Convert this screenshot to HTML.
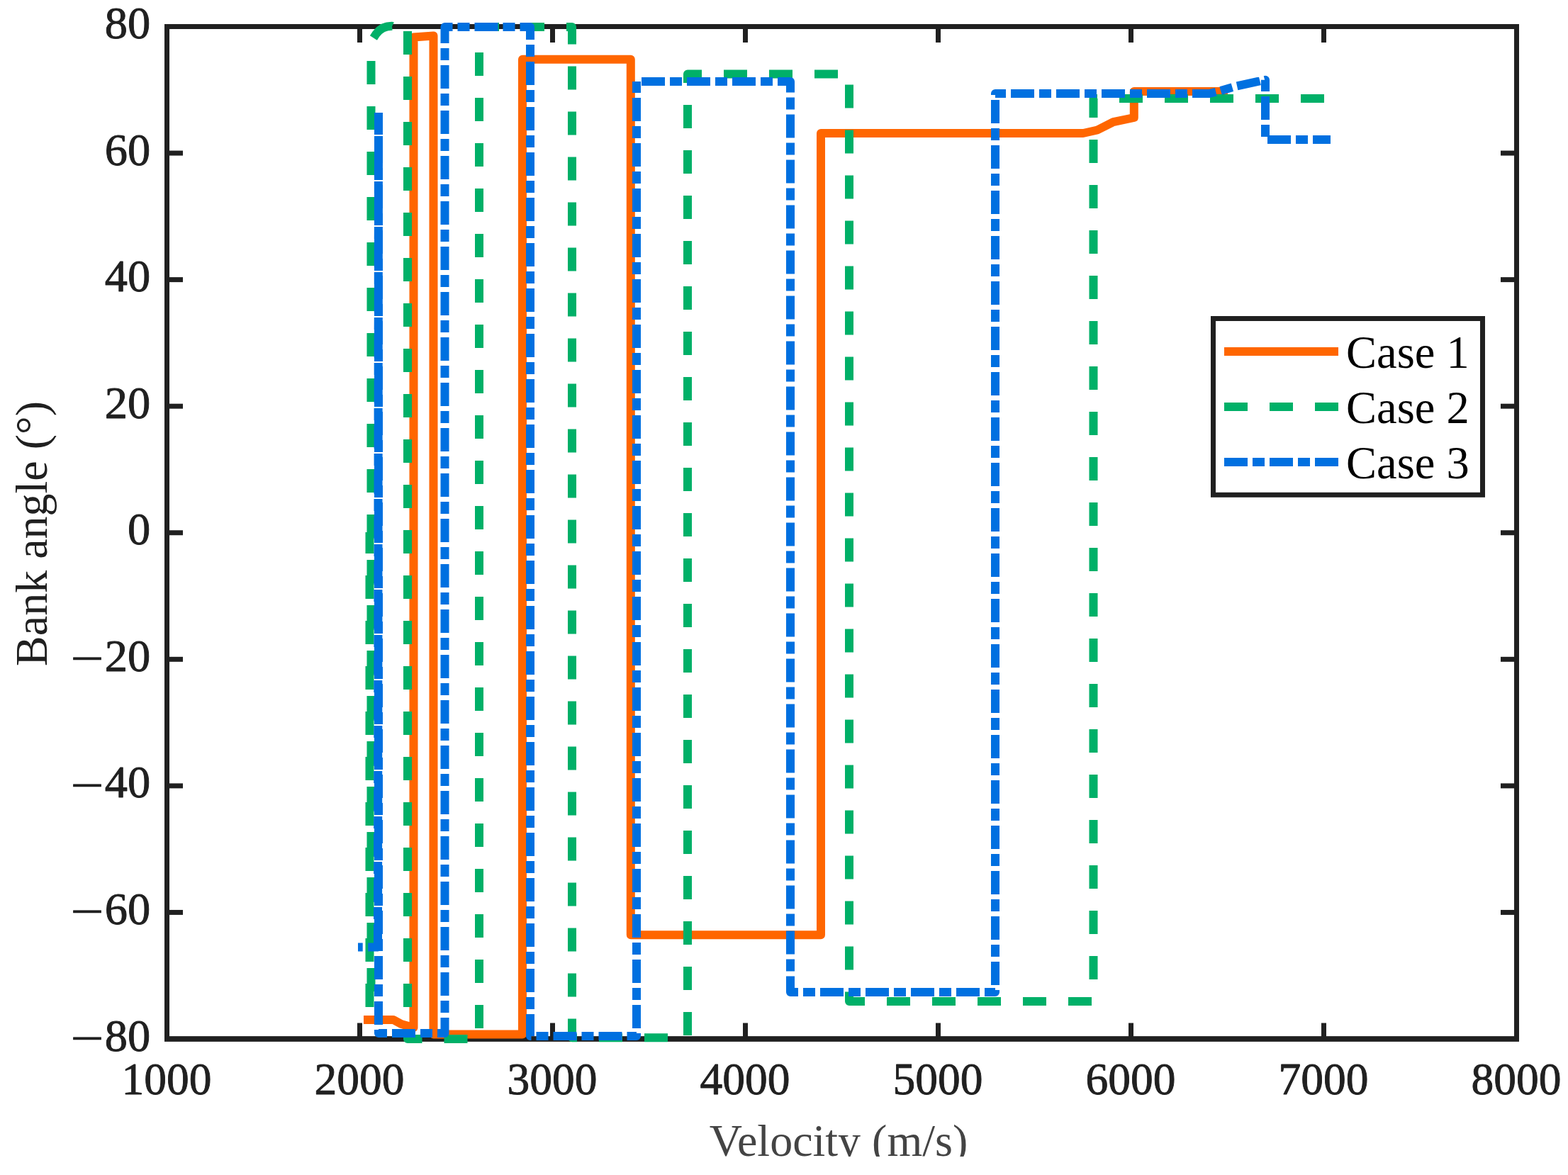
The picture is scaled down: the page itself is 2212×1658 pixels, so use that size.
<!DOCTYPE html>
<html lang="en"><head><meta charset="utf-8"><title>Bank angle vs velocity</title>
<style>
html,body{margin:0;padding:0;background:#fff;}
body{width:2212px;height:1658px;overflow:hidden;}
svg{display:block;}
text{font-family:"Liberation Serif",serif;}
.tick{font-size:63.5px;fill:#202020;stroke:#202020;stroke-width:0.9;stroke-linejoin:round;}
.minus{font-size:65px;stroke-width:0.6;}
.lab{font-size:64px;fill:#202020;}
.xlab{font-size:64px;fill:#444444;}
.leg{font-size:64.5px;fill:#000;}
</style></head><body>
<svg width="2212" height="1658" viewBox="0 0 2212 1658" role="img" aria-label="Bank angle versus velocity for Case 1, Case 2 and Case 3">
<rect x="0" y="0" width="2212" height="1658" fill="#ffffff"/>
<defs><clipPath id="pageclip"><rect x="0" y="0" width="2212" height="1632"/></clipPath></defs>
<g id="axes" stroke="#202020" stroke-width="7" fill="none" stroke-linecap="butt">
<rect x="235.5" y="37.5" width="1904" height="1428.5"/>
<line x1="232" y1="1465.95" x2="2143" y2="1465.95" stroke-width="7.4"/>
<line x1="507.5" y1="1466" x2="507.5" y2="1443.5"/>
<line x1="507.5" y1="37.5" x2="507.5" y2="60"/>
<line x1="779.5" y1="1466" x2="779.5" y2="1443.5"/>
<line x1="779.5" y1="37.5" x2="779.5" y2="60"/>
<line x1="1051.5" y1="1466" x2="1051.5" y2="1443.5"/>
<line x1="1051.5" y1="37.5" x2="1051.5" y2="60"/>
<line x1="1323.5" y1="1466" x2="1323.5" y2="1443.5"/>
<line x1="1323.5" y1="37.5" x2="1323.5" y2="60"/>
<line x1="1595.5" y1="1466" x2="1595.5" y2="1443.5"/>
<line x1="1595.5" y1="37.5" x2="1595.5" y2="60"/>
<line x1="1867.5" y1="1466" x2="1867.5" y2="1443.5"/>
<line x1="1867.5" y1="37.5" x2="1867.5" y2="60"/>
<line x1="235.5" y1="216.062" x2="258" y2="216.062"/>
<line x1="2139.5" y1="216.062" x2="2117" y2="216.062"/>
<line x1="235.5" y1="394.625" x2="258" y2="394.625"/>
<line x1="2139.5" y1="394.625" x2="2117" y2="394.625"/>
<line x1="235.5" y1="573.188" x2="258" y2="573.188"/>
<line x1="2139.5" y1="573.188" x2="2117" y2="573.188"/>
<line x1="235.5" y1="751.75" x2="258" y2="751.75"/>
<line x1="2139.5" y1="751.75" x2="2117" y2="751.75"/>
<line x1="235.5" y1="930.312" x2="258" y2="930.312"/>
<line x1="2139.5" y1="930.312" x2="2117" y2="930.312"/>
<line x1="235.5" y1="1108.88" x2="258" y2="1108.88"/>
<line x1="2139.5" y1="1108.88" x2="2117" y2="1108.88"/>
<line x1="235.5" y1="1287.44" x2="258" y2="1287.44"/>
<line x1="2139.5" y1="1287.44" x2="2117" y2="1287.44"/>
</g>
<g id="curves">
<path id="case1" d="M513 1439L555 1439L566 1445L583.5 1450L583.5 52.6L611.5 50.4L611.5 1459.5L737 1459.5L737 83.8L889.8 83.8L889.8 1319.2L1158 1319.2L1158 188L1528 188L1548 183.5L1570.5 172.2L1599.8 166L1599.8 129L1732 129" fill="none" stroke="#FF6600" stroke-width="12" stroke-linejoin="round" stroke-linecap="butt"/>
<path id="case2" d="M1868 139L1835 139M1804 139L1771 139M1740 139L1707 139M1676 139L1643 139M1612 139L1579 139M1548 139L1542.5 139L1542.5 166M1542.5 197L1542.5 230M1542.5 261L1542.5 294M1542.5 325L1542.5 358M1542.5 389L1542.5 422M1542.5 453L1542.5 486M1542.5 517L1542.5 550M1542.5 581L1542.5 614M1542.5 645L1542.5 678M1542.5 709L1542.5 742M1542.5 773L1542.5 806M1542.5 837L1542.5 870M1542.5 901L1542.5 934M1542.5 965L1542.5 998M1542.5 1029L1542.5 1062M1542.5 1093L1542.5 1126M1542.5 1157L1542.5 1190M1542.5 1221L1542.5 1254M1542.5 1285L1542.5 1318M1542.5 1349L1542.5 1382M1540 1413L1507 1413M1476 1413L1443 1413M1412 1413L1379 1413M1348 1413L1315 1413M1284 1413L1251 1413M1220 1413L1198 1413L1198 1399.5M1198 1368.5L1198 1335.5M1198 1304.5L1198 1271.5M1198 1240.5L1198 1207.5M1198 1176.5L1198 1143.5M1198 1112.5L1198 1079.5M1198 1048.5L1198 1015.5M1198 984.5L1198 951.5M1198 920.5L1198 887.5M1198 856.5L1198 823.5M1198 792.5L1198 759.5M1198 728.5L1198 695.5M1198 664.5L1198 631.5M1198 600.5L1198 567.5M1198 536.5L1198 503.5M1198 472.5L1198 439.5M1198 408.5L1198 375.5M1198 344.5L1198 311.5M1198 280.5L1198 247.5M1198 216.5L1198 183.5M1198 152.5L1198 119.5M1182 104.5L1149 104.5M1118 104.5L1085 104.5M1054 104.5L1021 104.5M990 104.5L970 104.5L970 117M970 148L970 181M970 212L970 245M970 276L970 309M970 340L970 373M970 404L970 437M970 468L970 501M970 532L970 565M970 596L970 629M970 660L970 693M970 724L970 757M970 788L970 821M970 852L970 885M970 916L970 949M970 980L970 1013M970 1044L970 1077M970 1108L970 1141M970 1172L970 1205M970 1236L970 1269M970 1300L970 1333M970 1364L970 1397M970 1428L970 1461M942 1464.2L909 1464.2M878 1464.2L845 1464.2M814 1464.2L807 1464.2L807 1437.5M807 1406.5L807 1373.5M807 1342.5L807 1309.5M807 1278.5L807 1245.5M807 1214.5L807 1181.5M807 1150.5L807 1117.5M807 1086.5L807 1053.5M807 1022.5L807 989.5M807 958.5L807 925.5M807 894.5L807 861.5M807 830.5L807 797.5M807 766.5L807 733.5M807 702.5L807 669.5M807 638.5L807 605.5M807 574.5L807 541.5M807 510.5L807 477.5M807 446.5L807 413.5M807 382.5L807 349.5M807 318.5L807 285.5M807 254.5L807 221.5M807 190.5L807 157.5M807 126.5L807 93.5M807 62.5L807 38L799 38M768 38L735 38M704 38L676 38L676 43M676 74L676 107M676 138L676 171M676 202L676 235M676 266L676 299M676 330L676 363M676 394L676 427M676 458L676 491M676 522L676 555M676 586L676 619M676 650L676 683M676 714L676 747M676 778L676 811M676 842L676 875M676 906L676 939M676 970L676 1003M676 1034L676 1067M676 1098L676 1131M676 1162L676 1195M676 1226L676 1259M676 1290L676 1323M676 1354L676 1387M676 1418L676 1451M659.5 1466L626.5 1466M595.5 1466L575 1466L575 1452M575 1421L575 1388M575 1357L575 1324M575 1293L575 1260M575 1229L575 1196M575 1165L575 1132M575 1101L575 1068M575 1037L575 1004M575 973L575 940M575 909L575 876M575 845L575 812M575 781L575 748M575 717L575 684M575 653L575 620M575 589L575 556M575 525L575 492M575 461L575 428M575 397L575 364M575 333L575 300M575 269L575 236M575 205L575 172M575 141L575 108M575 77L575 44M553.2 36.9L553 36.8L546 37.5L540 39.5L535 43L530.5 48L526.9 53.5M523.5 86L523.5 119M523.5 150L523.5 183M523.5 214L523.5 247M523.5 278L523.5 311M523.5 342L523.5 375M523.5 406L523.5 439M523.5 470L523.5 503M523.5 534L523.5 567M523.5 598L523.5 631M523.5 662L523.5 695M523.5 726L523.5 759M523.5 790L523.5 823M523.5 854L523.5 887M523.5 918L523.5 951M523.5 982L523.5 1015M523.5 1046L523.5 1079M523.5 1110L523.5 1143M523.5 1174L523.5 1207M523.5 1238L523.5 1271M523.5 1302L523.5 1335M523.5 1366L523.5 1399M521.5 1421L521.5 1388M521.5 1357L521.5 1324M521.5 1293L521.5 1260M521.5 1229L521.5 1196M521.5 1165L521.5 1132M521.5 1101L521.5 1068M521.5 1037L521.5 1004M521.5 973L521.5 940M521.5 909L521.5 876M521.5 845L521.5 812M521.5 781L521.5 751" fill="none" stroke="#00B068" stroke-width="12" stroke-linejoin="round" stroke-linecap="butt"/>
<path id="case3" d="M1869 197L1877 197M1877 197L1852 197M1845 197L1828 197M1821 197L1788 197M1785 193L1785 176M1785 169L1785 136M1785 129L1785 112.8L1784.2 113M1777.4 114.3L1777 114.4L1745.1 121.3M1738.4 123.2L1722.1 128M1715.3 129.7L1706 132L1682 132M1675 132L1658 132M1651 132L1618 132M1611 132L1594 132M1587 132L1554 132M1547 132L1530 132M1523 132L1490 132M1483 132L1466 132M1459 132L1426 132M1419 132L1404 132L1404 134M1404 141L1404 174M1404 181L1404 198M1404 205L1404 238M1404 245L1404 262M1404 269L1404 302M1404 309L1404 326M1404 333L1404 366M1404 373L1404 390M1404 397L1404 430M1404 437L1404 454M1404 461L1404 494M1404 501L1404 518M1404 525L1404 558M1404 565L1404 582M1404 589L1404 622M1404 629L1404 646M1404 653L1404 686M1404 693L1404 710M1404 717L1404 750M1404 757L1404 774M1404 781L1404 814M1404 821L1404 838M1404 845L1404 878M1404 885L1404 902M1404 909L1404 942M1404 949L1404 966M1404 973L1404 1006M1404 1013L1404 1030M1404 1037L1404 1070M1404 1077L1404 1094M1404 1101L1404 1134M1404 1141L1404 1158M1404 1165L1404 1198M1404 1205L1404 1222M1404 1229L1404 1262M1404 1269L1404 1286M1404 1293L1404 1326M1404 1333L1404 1350M1404 1357L1404 1390M1404 1397L1404 1400L1389 1400M1382 1400L1349 1400M1342 1400L1325 1400M1318 1400L1285 1400M1278 1400L1261 1400M1254 1400L1221 1400M1214 1400L1197 1400M1190 1400L1157 1400M1150 1400L1133 1400M1126 1400L1115 1400L1115 1377.5M1115 1370.5L1115 1353.5M1115 1346.5L1115 1313.5M1115 1306.5L1115 1289.5M1115 1282.5L1115 1249.5M1115 1242.5L1115 1225.5M1115 1218.5L1115 1185.5M1115 1178.5L1115 1161.5M1115 1154.5L1115 1121.5M1115 1114.5L1115 1097.5M1115 1090.5L1115 1057.5M1115 1050.5L1115 1033.5M1115 1026.5L1115 993.5M1115 986.5L1115 969.5M1115 962.5L1115 929.5M1115 922.5L1115 905.5M1115 898.5L1115 865.5M1115 858.5L1115 841.5M1115 834.5L1115 801.5M1115 794.5L1115 777.5M1115 770.5L1115 737.5M1115 730.5L1115 713.5M1115 706.5L1115 673.5M1115 666.5L1115 649.5M1115 642.5L1115 609.5M1115 602.5L1115 585.5M1115 578.5L1115 545.5M1115 538.5L1115 521.5M1115 514.5L1115 481.5M1115 474.5L1115 457.5M1115 450.5L1115 417.5M1115 410.5L1115 393.5M1115 386.5L1115 353.5M1115 346.5L1115 329.5M1115 322.5L1115 289.5M1115 282.5L1115 265.5M1115 258.5L1115 225.5M1115 218.5L1115 201.5M1115 194.5L1115 161.5M1115 154.5L1115 137.5M1115 130.5L1115 115L1097 115M1090 115L1073 115M1066 115L1033 115M1026 115L1009 115M1002 115L969 115M962 115L945 115M938 115L905 115M898 115L898 131M898 138L898 171M898 178L898 195M898 202L898 235M898 242L898 259M898 266L898 299M898 306L898 323M898 330L898 363M898 370L898 387M898 394L898 427M898 434L898 451M898 458L898 491M898 498L898 515M898 522L898 555M898 562L898 579M898 586L898 619M898 626L898 643M898 650L898 683M898 690L898 707M898 714L898 747M898 754L898 771M898 778L898 811M898 818L898 835M898 842L898 875M898 882L898 899M898 906L898 939M898 946L898 963M898 970L898 1003M898 1010L898 1027M898 1034L898 1067M898 1074L898 1091M898 1098L898 1131M898 1138L898 1155M898 1162L898 1195M898 1202L898 1219M898 1226L898 1259M898 1266L898 1283M898 1290L898 1323M898 1330L898 1347M898 1354L898 1387M898 1394L898 1411M898 1418L898 1451M898 1458L898 1462L884.5 1462M877.5 1462L844.5 1462M837.5 1462L820.5 1462M813.5 1462L780.5 1462M773.5 1462L756.5 1462M749.5 1462L748 1462L748 1431M748 1424L748 1407M748 1400L748 1367M748 1360L748 1343M748 1336L748 1303M748 1296L748 1279M748 1272L748 1239M748 1232L748 1215M748 1208L748 1175M748 1168L748 1151M748 1144L748 1111M748 1104L748 1087M748 1080L748 1047M748 1040L748 1023M748 1016L748 983M748 976L748 959M748 952L748 919M748 912L748 895M748 888L748 855M748 848L748 831M748 824L748 791M748 784L748 767M748 760L748 727M748 720L748 703M748 696L748 663M748 656L748 639M748 632L748 599M748 592L748 575M748 568L748 535M748 528L748 511M748 504L748 471M748 464L748 447M748 440L748 407M748 400L748 383M748 376L748 343M748 336L748 319M748 312L748 279M748 272L748 255M748 248L748 215M748 208L748 191M748 184L748 151M748 144L748 127M748 120L748 87M748 80L748 63M748 56L748 38L733.5 38M726.5 38L709.5 38M702.5 38L669.5 38M662.5 38L645.5 38M638.5 38L627.5 38L627.5 61M627.5 68L627.5 85M627.5 92L627.5 125M627.5 132L627.5 149M627.5 156L627.5 189M627.5 196L627.5 213M627.5 220L627.5 253M627.5 260L627.5 277M627.5 284L627.5 317M627.5 324L627.5 341M627.5 348L627.5 381M627.5 388L627.5 405M627.5 412L627.5 445M627.5 452L627.5 469M627.5 476L627.5 509M627.5 516L627.5 533M627.5 540L627.5 573M627.5 580L627.5 597M627.5 604L627.5 637M627.5 644L627.5 661M627.5 668L627.5 701M627.5 708L627.5 725M627.5 732L627.5 765M627.5 772L627.5 789M627.5 796L627.5 829M627.5 836L627.5 853M627.5 860L627.5 893M627.5 900L627.5 917M627.5 924L627.5 957M627.5 964L627.5 981M627.5 988L627.5 1021M627.5 1028L627.5 1045M627.5 1052L627.5 1085M627.5 1092L627.5 1109M627.5 1116L627.5 1149M627.5 1156L627.5 1173M627.5 1180L627.5 1213M627.5 1220L627.5 1237M627.5 1244L627.5 1277M627.5 1284L627.5 1301M627.5 1308L627.5 1341M627.5 1348L627.5 1365M627.5 1372L627.5 1405M627.5 1412L627.5 1429M627.5 1436L627.5 1458L617 1458M610 1458L593 1458M586 1458L553 1458M546 1458L534 1458L534 1453M534 1446L534 1413M534 1406L534 1389M534 1382L534 1349M534 1342L534 1325M534 1318L534 1285M534 1278L534 1261M534 1254L534 1221M534 1214L534 1197M534 1190L534 1157M534 1150L534 1133M534 1126L534 1093M534 1086L534 1069M534 1062L534 1029M534 1022L534 1005M534 998L534 965M534 958L534 941M534 934L534 901M534 894L534 877M534 870L534 837M534 830L534 813M534 806L534 773M534 766L534 749M534 742L534 709M534 702L534 685M534 678L534 645M534 638L534 621M534 614L534 581M534 574L534 557M534 550L534 517M534 510L534 493M534 486L534 453M534 446L534 429M534 422L534 389M534 382L534 365M534 358L534 325M534 318L534 301M534 294L534 261M534 254L534 237M534 230L534 197M534 190L534 173M534 166L534 159M534 159L534 185M534 192L534 209M534 216L533.9 249M533.9 256L533.9 273M533.9 280L533.9 313M533.9 320L533.8 337M533.8 344L533.8 377M533.8 384L533.8 401M533.8 408L533.8 441M533.8 448L533.7 465M533.7 472L533.7 505M533.7 512L533.7 529M533.7 536L533.7 569M533.6 576L533.6 593M533.6 600L533.6 633M533.6 640L533.6 657M533.6 664L533.5 697M533.5 704L533.5 721M533.5 728L533.5 761M533.5 768L533.5 785M533.5 792L533.4 825M533.4 832L533.4 849M533.4 856L533.4 889M533.4 896L533.4 913M533.4 920L533.3 953M533.3 960L533.3 977M533.3 984L533.3 1017M533.3 1024L533.3 1041M533.2 1048L533.2 1081M533.2 1088L533.2 1105M533.2 1112L533.2 1145M533.2 1152L533.1 1169M533.1 1176L533.1 1209M533.1 1216L533.1 1233M533.1 1240L533.1 1273M533 1280L533 1297M533 1304L533 1336.5M534 1336.5L519.2 1336.5M511.7 1336.5L505 1336.5" fill="none" stroke="#0070E0" stroke-width="12" stroke-linejoin="round" stroke-linecap="butt"/>
</g>
<g id="legend">
<rect x="1711.5" y="449.5" width="380" height="248.8" fill="#ffffff" stroke="#202020" stroke-width="7"/>
<line x1="1727" y1="496" x2="1888" y2="496" stroke="#FF6600" stroke-width="12"/>
<line x1="1727" y1="574" x2="1888" y2="574" stroke="#00B068" stroke-width="12" stroke-dasharray="33 31"/>
<line x1="1727" y1="652" x2="1888" y2="652" stroke="#0070E0" stroke-width="12" stroke-dasharray="33 7 17 7"/>
<text class="leg" text-anchor="start" transform="translate(1899 519) scale(1 1.03)">Case 1</text>
<text class="leg" text-anchor="start" transform="translate(1899 597) scale(1 1.03)">Case 2</text>
<text class="leg" text-anchor="start" transform="translate(1899 675) scale(1 1.03)">Case 3</text>
</g>
<g id="ticklabels">
<text class="tick" text-anchor="middle" transform="translate(235.1 1543.6)">1000</text>
<text class="tick" text-anchor="middle" transform="translate(507.1 1543.6)">2000</text>
<text class="tick" text-anchor="middle" transform="translate(779.1 1543.6)">3000</text>
<text class="tick" text-anchor="middle" transform="translate(1051.1 1543.6)">4000</text>
<text class="tick" text-anchor="middle" transform="translate(1323.1 1543.6)">5000</text>
<text class="tick" text-anchor="middle" transform="translate(1595.1 1543.6)">6000</text>
<text class="tick" text-anchor="middle" transform="translate(1867.1 1543.6)">7000</text>
<text class="tick" text-anchor="middle" transform="translate(2139.1 1543.6)">8000</text>
<text class="tick" text-anchor="end" transform="translate(212.2 54) scale(1.015 1)">80</text>
<text class="tick" text-anchor="end" transform="translate(212.2 232.56) scale(1.015 1)">60</text>
<text class="tick" text-anchor="end" transform="translate(212.2 411.12) scale(1.015 1)">40</text>
<text class="tick" text-anchor="end" transform="translate(212.2 589.69) scale(1.015 1)">20</text>
<text class="tick" text-anchor="end" transform="translate(212.2 768.25) scale(1.015 1)">0</text>
<text class="tick" transform="translate(212.2 946.81) scale(1.015 1)" text-anchor="end"><tspan class="minus" x="-111.13" y="4.5" text-anchor="start" textLength="46.7" lengthAdjust="spacingAndGlyphs">−</tspan><tspan x="0" y="0">20</tspan></text>
<text class="tick" transform="translate(212.2 1125.38) scale(1.015 1)" text-anchor="end"><tspan class="minus" x="-111.13" y="4.5" text-anchor="start" textLength="46.7" lengthAdjust="spacingAndGlyphs">−</tspan><tspan x="0" y="0">40</tspan></text>
<text class="tick" transform="translate(212.2 1303.94) scale(1.015 1)" text-anchor="end"><tspan class="minus" x="-111.13" y="4.5" text-anchor="start" textLength="46.7" lengthAdjust="spacingAndGlyphs">−</tspan><tspan x="0" y="0">60</tspan></text>
<text class="tick" transform="translate(212.2 1482.5) scale(1.015 1)" text-anchor="end"><tspan class="minus" x="-111.13" y="4.5" text-anchor="start" textLength="46.7" lengthAdjust="spacingAndGlyphs">−</tspan><tspan x="0" y="0">80</tspan></text>
</g>
<text class="lab" text-anchor="middle" transform="translate(65.6 753) rotate(-90)">Bank angle (°)</text>
<g clip-path="url(#pageclip)">
<text class="xlab" text-anchor="middle" transform="translate(1183 1630.8)">Velocity (m/s)</text>
</g>
</svg>
</body></html>
